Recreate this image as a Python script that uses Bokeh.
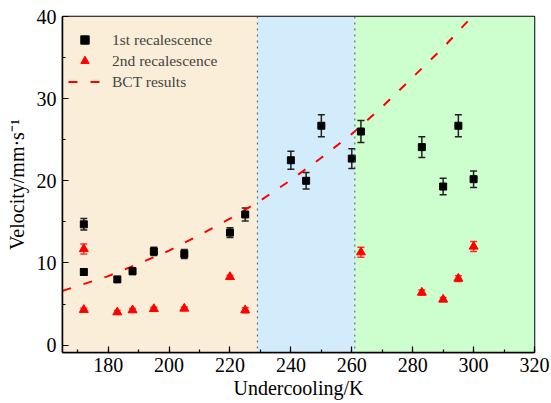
from bokeh.plotting import figure
from bokeh.models import (ColumnDataSource, Whisker, BoxAnnotation, Span, Legend, LegendItem,
                          SingleIntervalTicker, Range1d, TeeHead)
from bokeh.embed import file_html
from bokeh.resources import INLINE

# 1st recalescence (black squares)
t1 = [172, 172, 183, 188, 195, 205, 220, 225, 240, 245, 250, 260, 263, 283, 290, 295, 300]
v1 = [14.7, 8.9, 8.0, 9.0, 11.4, 11.1, 13.7, 15.9, 22.5, 20.0, 26.7, 22.7, 26.0, 24.1, 19.3, 26.7, 20.2]
e1 = [0.7, 0.4, 0.3, 0.4, 0.5, 0.55, 0.6, 0.8, 1.1, 1.0, 1.35, 1.2, 1.35, 1.25, 1.0, 1.35, 1.0]

# 2nd recalescence (red triangles)
t2 = [172, 172, 183, 188, 195, 205, 220, 225, 263, 283, 290, 295, 300]
v2 = [11.7, 4.3, 4.0, 4.25, 4.4, 4.45, 8.3, 4.25, 11.3, 6.4, 5.55, 8.1, 12.0]
e2 = [0.6, 0.2, 0.2, 0.2, 0.2, 0.2, 0.2, 0.3, 0.6, 0.3, 0.25, 0.35, 0.6]

# BCT results (dashed red curve)
tb = [165, 170, 180, 190, 200, 210, 220, 230, 240, 250, 260, 270, 280, 290, 300]
vb = [6.6, 7.2, 8.4, 9.9, 11.5, 13.4, 15.4, 17.6, 20.1, 22.8, 25.7, 29.0, 32.6, 36.2, 40.2]

# shaded undercooling regions
region_edges = [165, 229, 261, 320]
region_colors = ["#FAEED8", "#D3ECFC", "#CDFECD"]

FONT = "Liberation Serif"

p = figure(width=551, height=403, output_backend="svg", toolbar_location=None,
           x_range=Range1d(165, 320), y_range=Range1d(-0.9, 40),
           min_border_left=62, min_border_right=17, min_border_top=16, min_border_bottom=51)
p.background_fill_color = "white"
p.border_fill_color = "white"
p.xgrid.visible = False
p.ygrid.visible = False
p.outline_line_color = "black"
p.outline_line_width = 1.5
p.outline_line_alpha = 1.0

for i, c in enumerate(region_colors):
    p.add_layout(BoxAnnotation(left=region_edges[i], right=region_edges[i + 1],
                               fill_color=c, fill_alpha=1.0, line_alpha=0, level="underlay"))
for xe in region_edges[1:-1]:
    p.add_layout(Span(location=xe, dimension="height", line_color="#555555",
                      line_dash="dotted", line_width=1))

bct = p.line(tb, vb, line_color="#FF0000", line_width=2, line_dash="9 13")

s1 = ColumnDataSource(dict(x=t1, y=v1, lo=[a - b for a, b in zip(v1, e1)], hi=[a + b for a, b in zip(v1, e1)]))
s2 = ColumnDataSource(dict(x=t2, y=v2, lo=[a - b for a, b in zip(v2, e2)], hi=[a + b for a, b in zip(v2, e2)]))

p.add_layout(Whisker(source=s1, base="x", upper="hi", lower="lo", line_color="#222222", line_width=1.5,
                     upper_head=TeeHead(size=7, line_color="#222222", line_width=1.5),
                     lower_head=TeeHead(size=7, line_color="#222222", line_width=1.5)))
p.add_layout(Whisker(source=s2, base="x", upper="hi", lower="lo", line_color="#FF3030", line_width=1.5,
                     upper_head=TeeHead(size=7, line_color="#FF3030", line_width=1.5),
                     lower_head=TeeHead(size=7, line_color="#FF3030", line_width=1.5)))

r1 = p.scatter("x", "y", source=s1, marker="square", size=7, fill_color="black", line_color="black")
r2 = p.scatter("x", "y", source=s2, marker="triangle", size=9, fill_color="#FF0000", line_color="#FF0000")

legend = Legend(items=[LegendItem(label="1st recalescence", renderers=[r1]),
                       LegendItem(label="2nd recalescence", renderers=[r2]),
                       LegendItem(label="BCT results", renderers=[bct])],
                location=(6, 260), background_fill_alpha=0, border_line_alpha=0,
                padding=0, margin=0, spacing=0, label_height=21, glyph_height=21, glyph_width=33,
                label_standoff=11, label_text_font=FONT, label_text_font_size="15.5px")
p.add_layout(legend)

for ax in (p.xaxis[0], p.yaxis[0]):
    ax.axis_line_width = 1.5
    ax.axis_line_color = "black"
    ax.major_tick_in = 6
    ax.major_tick_out = 0
    ax.minor_tick_in = 3
    ax.minor_tick_out = 0
    ax.major_tick_line_width = 1.2
    ax.minor_tick_line_width = 1.2
    ax.axis_label_text_font = FONT
    ax.axis_label_text_font_size = "20px"
    ax.axis_label_text_font_style = "normal"
    ax.axis_label_text_color = "black"

p.xaxis.major_label_text_font = FONT
p.yaxis.major_label_text_font = FONT
p.xaxis.major_label_text_font_size = "20px"
p.yaxis.major_label_text_font_size = "20px"
p.xaxis.major_label_text_color = "black"
p.yaxis.major_label_text_color = "black"

p.xaxis.ticker = SingleIntervalTicker(interval=20, num_minor_ticks=2)
p.yaxis.ticker = SingleIntervalTicker(interval=10, num_minor_ticks=2)
p.xaxis.axis_label = "Undercooling/K"
p.yaxis.axis_label = "Velocity/mm\u00b7s\u207b\u00b9"
p.xaxis.major_label_standoff = 5
p.xaxis.axis_label_standoff = 2
p.yaxis.major_label_standoff = 6
p.yaxis.axis_label_standoff = 6

open("out.html", "w").write(file_html(p, INLINE))
